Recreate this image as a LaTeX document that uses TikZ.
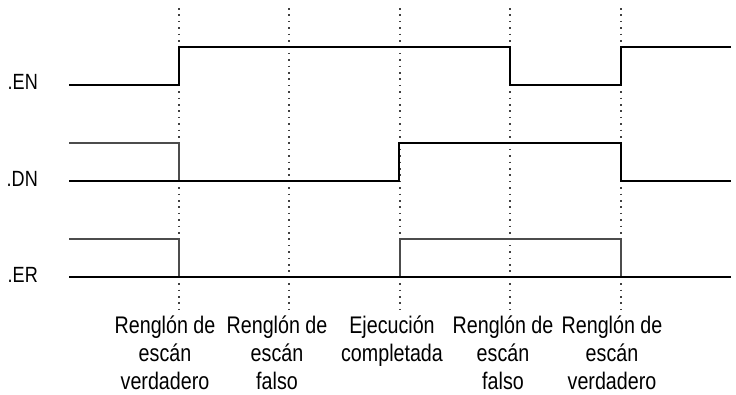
\documentclass[tikz,border=0pt]{standalone}
\usepackage{fontspec}
\setmainfont[FakeStretch=0.82]{Liberation Sans}
\begin{document}
\begin{tikzpicture}[x=1pt,y=-1pt,
  thick sig/.style={line width=2.8pt,black,line join=miter},
  thin sig/.style={line width=1.4pt,black!70},
  guide/.style={line width=1.4pt,black!75,dash pattern=on 1.6pt off 4.8pt},
  siglabel/.style={anchor=base east,inner sep=0pt,font=\fontsize{22}{26}\selectfont},
  evlabel/.style={anchor=base,inner sep=0pt,align=center,font=\fontsize{24}{28}\selectfont}]
\useasboundingbox (0,0) rectangle (736,394);
% event positions
\foreach \n/\x in {a/179,b/289,c/400,d/510,e/621}{
  \coordinate (\n top) at (\x,8);
  \coordinate (\n bot) at (\x,312);
  \draw[guide] (\n top) -- (\n bot);
}
% signal names
\node[siglabel] (en) at (38,89) {.EN};
\node[siglabel] (dn) at (38,186) {.DN};
\node[siglabel] (er) at (38,282) {.ER};
% thin (previous state) traces
\draw[thin sig] (69,143) -- (179,143) -- (179,181);
\draw[thin sig] (69,239) -- (179,239) -- (179,277);
\draw[thin sig] (400,277) -- (400,239) -- (621,239) -- (621,277);
% thick traces
\draw[thick sig] (69,85) -- (179,85) -- (179,47) -- (510,47) -- (510,85) -- (621,85) -- (621,47) -- (731,47);
\draw[thick sig] (69,181) -- (399,181) -- (399,143) -- (621,143) -- (621,181) -- (731,181);
\draw[thick sig] (69,277) -- (731,277);
% event labels (base anchor = baseline of last line)
\node[evlabel] (la) at (165,389) {Renglón de\\escán\\verdadero};
\node[evlabel] (lb) at (277,389) {Renglón de\\escán\\falso};
\node[evlabel] (lc) at (392,361) {Ejecución\\completada};
\node[evlabel] (ld) at (503,389) {Renglón de\\escán\\falso};
\node[evlabel] (le) at (612,389) {Renglón de\\escán\\verdadero};
\end{tikzpicture}
\end{document}
